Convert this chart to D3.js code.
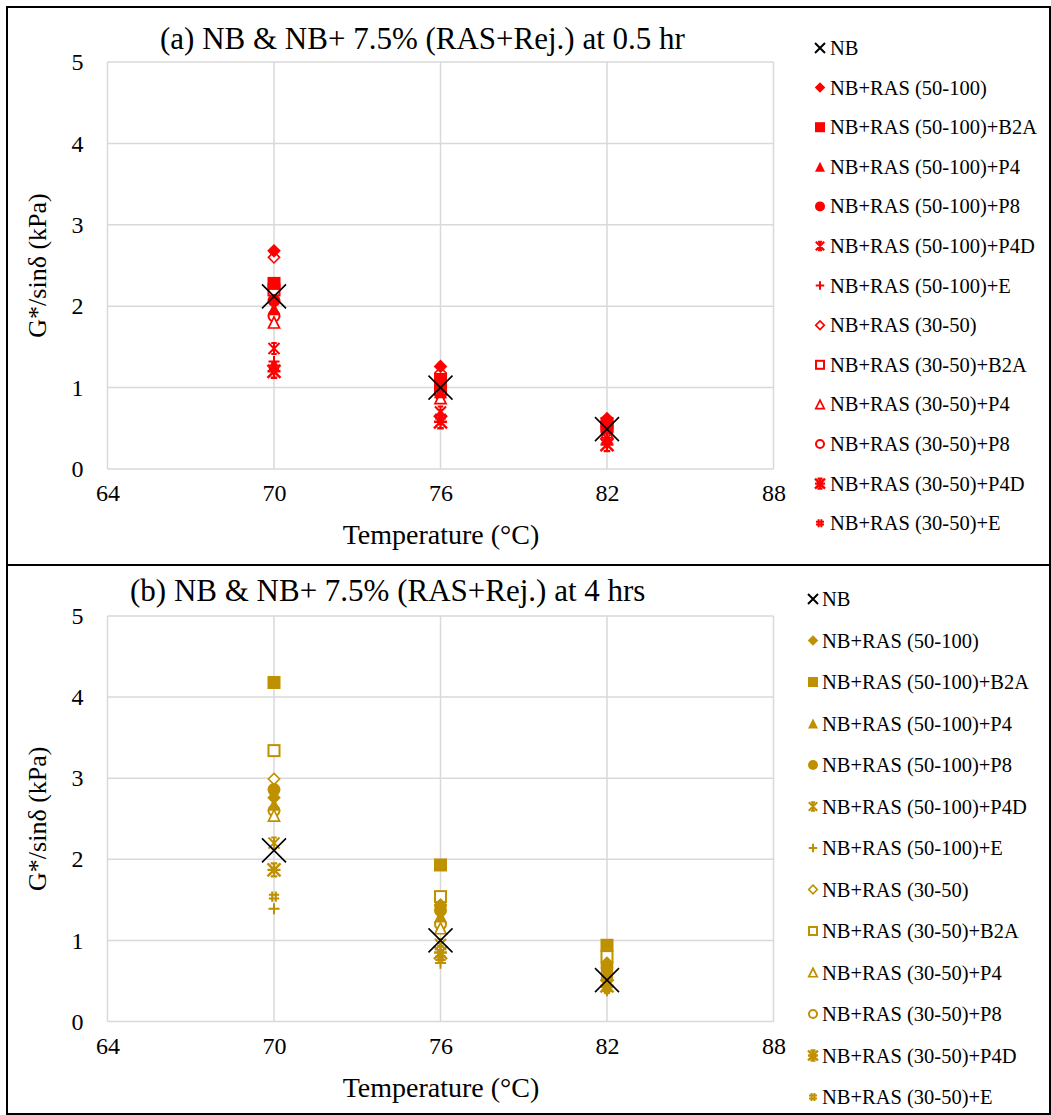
<!DOCTYPE html>
<html><head><meta charset="utf-8">
<script src="https://cdn.jsdelivr.net/npm/d3@7"></script>
<style>body{margin:0;background:#fff}svg{display:block}</style>
</head><body>
<script>
const temps = [70, 76, 82];
const xTicks = [64, 70, 76, 82, 88];
const yTicks = [0, 1, 2, 3, 4, 5];
const seriesNames = ["NB","NB+RAS (50-100)","NB+RAS (50-100)+B2A","NB+RAS (50-100)+P4","NB+RAS (50-100)+P8","NB+RAS (50-100)+P4D","NB+RAS (50-100)+E","NB+RAS (30-50)","NB+RAS (30-50)+B2A","NB+RAS (30-50)+P4","NB+RAS (30-50)+P8","NB+RAS (30-50)+P4D","NB+RAS (30-50)+E"];
const markerTypes = ["x","diamondF","squareF","triangleF","circleF","star","plus","diamondO","squareO","triangleO","circleO","burst","hash"];
// Panel (a) 0.5 hr
const a_NB = [2.12, 1.00, 0.49];
const a_R50 = [2.68, 1.26, 0.62];
const a_R50_B2A = [2.28, 1.10, 0.56];
const a_R50_P4 = [1.97, 0.95, 0.50];
const a_R50_P8 = [2.07, 1.02, 0.52];
const a_R50_P4D = [1.48, 0.70, 0.38];
const a_R50_E = [1.32, 0.67, 0.36];
const a_R30 = [2.60, 1.18, 0.58];
const a_R30_B2A = [2.20, 0.98, 0.52];
const a_R30_P4 = [1.80, 0.87, 0.45];
const a_R30_P8 = [1.88, 0.92, 0.47];
const a_R30_P4D = [1.20, 0.58, 0.30];
const a_R30_E = [1.25, 0.64, 0.33];
// Panel (b) 4 hrs
const b_NB = [2.11, 1.00, 0.51];
const b_R50 = [2.76, 1.44, 0.72];
const b_R50_B2A = [4.18, 1.93, 0.94];
const b_R50_P4 = [2.68, 1.30, 0.62];
const b_R50_P8 = [2.86, 1.37, 0.66];
const b_R50_P4D = [2.20, 0.95, 0.48];
const b_R50_E = [1.39, 0.72, 0.38];
const b_R30 = [2.99, 1.42, 0.70];
const b_R30_B2A = [3.34, 1.54, 0.80];
const b_R30_P4 = [2.54, 1.15, 0.58];
const b_R30_P8 = [2.60, 1.20, 0.60];
const b_R30_P4D = [1.87, 0.85, 0.44];
const b_R30_E = [1.54, 0.78, 0.40];

const FONT = "'Liberation Serif','Times New Roman',serif";

const panels = [
  {title:"(a) NB & NB+ 7.5% (RAS+Rej.) at 0.5 hr", color:"#FF0000",
   data:[a_NB,a_R50,a_R50_B2A,a_R50_P4,a_R50_P8,a_R50_P4D,a_R50_E,a_R30,a_R30_B2A,a_R30_P4,a_R30_P8,a_R30_P4D,a_R30_E],
   top:7, bottom:565, pTop:62, pBot:469, titleX:160, titleY:49, legX:820, legTextX:830, legY0:48, legDy:39.6},
  {title:"(b) NB & NB+ 7.5% (RAS+Rej.) at 4 hrs", color:"#BF9000",
   data:[b_NB,b_R50,b_R50_B2A,b_R50_P4,b_R50_P8,b_R50_P4D,b_R50_E,b_R30,b_R30_B2A,b_R30_P4,b_R30_P8,b_R30_P4D,b_R30_E],
   top:565, bottom:1114, pTop:616, pBot:1021.5, titleX:130, titleY:601, legX:813, legTextX:822, legY0:599, legDy:41.5}
];

const svg = d3.select("body").append("svg").attr("width",1051).attr("height",1115);

function drawMarker(g, type, cx, cy, s, color, big){
  const h = s/2;
  const m = g.append("g").attr("transform",`translate(${cx},${cy})`);
  switch(type){
    case "x": {
      const r = big ? 12 : 5;
      m.append("path").attr("d",`M${-r},${-r}L${r},${r}M${-r},${r}L${r},${-r}`).attr("stroke","#000").attr("stroke-width",big?1.6:2).attr("fill","none");
      break;}
    case "diamondF": case "diamondO": {
      const r = h*1.05;
      const p = m.append("path").attr("d",`M0,${-r}L${r},0L0,${r}L${-r},0Z`);
      if(type==="diamondF") p.attr("fill",color); else p.attr("fill","#fff").attr("stroke",color).attr("stroke-width",2).attr("transform","scale(0.82)");
      break;}
    case "squareF": case "squareO": {
      const p = m.append("rect").attr("x",-h).attr("y",-h).attr("width",s).attr("height",s);
      if(type==="squareF") p.attr("fill",color); else p.attr("fill","#fff").attr("stroke",color).attr("stroke-width",2).attr("x",-h+1).attr("y",-h+1).attr("width",s-2).attr("height",s-2);
      break;}
    case "triangleF": case "triangleO": {
      const p = m.append("path").attr("d",`M0,${-h}L${h},${h}L${-h},${h}Z`);
      if(type==="triangleF") p.attr("fill",color); else p.attr("fill","#fff").attr("stroke",color).attr("stroke-width",2).attr("transform","scale(0.85)");
      break;}
    case "circleF": case "circleO": {
      const p = m.append("circle").attr("r",h);
      if(type==="circleF") p.attr("fill",color); else p.attr("fill","#fff").attr("stroke",color).attr("stroke-width",2).attr("r",h-1);
      break;}
    case "star": {
      const r = h*0.85;
      m.append("path").attr("d",`M${-r},${-r}L${r},${r}M${-r},${r}L${r},${-r}M0,${-r}L0,${r}M${-r*0.5},${-r}L${r*0.5},${-r}M${-r*0.5},${r}L${r*0.5},${r}`).attr("stroke",color).attr("stroke-width",2).attr("fill","none");
      break;}
    case "plus": {
      const r = h*0.85;
      m.append("path").attr("d",`M${-r},0L${r},0M0,${-r}L0,${r}`).attr("stroke",color).attr("stroke-width",2).attr("fill","none");
      break;}
    case "burst": {
      const r = h;
      m.append("path").attr("d",`M${-r},${-r}L${r},${r}M${-r},${r}L${r},${-r}M0,${-r}L0,${r}M${-r},0L${r},0M${-r*0.5},${-r}L${r*0.5},${-r}M${-r*0.5},${r}L${r*0.5},${r}`).attr("stroke",color).attr("stroke-width",2.4).attr("fill","none");
      break;}
    case "hash": {
      const r = h*0.8;
      m.append("path").attr("d",`M${-r},${-r*0.35}L${r},${-r*0.35}M${-r},${r*0.35}L${r},${r*0.35}M${-r*0.35},${-r}L${-r*0.35},${r}M${r*0.35},${-r}L${r*0.35},${r}`).attr("stroke",color).attr("stroke-width",2).attr("fill","none");
      break;}
  }
}

panels.forEach(P => {
  const g = svg.append("g");
  g.append("rect").attr("x",7).attr("y",P.top).attr("width",1043).attr("height",P.bottom-P.top)
    .attr("fill","none").attr("stroke","#000").attr("stroke-width",2);
  const x = d3.scaleLinear().domain([64,88]).range([107.5,773.5]);
  const y = d3.scaleLinear().domain([0,5]).range([P.pBot,P.pTop]);
  g.append("g").selectAll("line").data(xTicks).join("line")
    .attr("x1",d=>x(d)).attr("x2",d=>x(d)).attr("y1",P.pTop).attr("y2",P.pBot)
    .attr("stroke","#d9d9d9").attr("stroke-width",1.5);
  g.append("g").selectAll("line").data(yTicks).join("line")
    .attr("x1",x(64)).attr("x2",x(88)).attr("y1",d=>y(d)).attr("y2",d=>y(d))
    .attr("stroke","#d9d9d9").attr("stroke-width",1.5);
  const xa = g.append("g").attr("transform",`translate(0,${P.pBot})`)
    .call(d3.axisBottom(x).tickValues(xTicks).tickFormat(d3.format("d")).tickSize(0).tickPadding(15));
  xa.select(".domain").remove();
  xa.attr("font-family",null).attr("font-size",null);
  xa.selectAll("text").style("font-size","24px").style("font-family",FONT).attr("fill","#000");
  const ya = g.append("g").attr("transform",`translate(${x(64)},0)`)
    .call(d3.axisLeft(y).tickValues(yTicks).tickFormat(d3.format("d")).tickSize(0).tickPadding(24));
  ya.select(".domain").remove();
  ya.attr("font-family",null).attr("font-size",null);
  ya.selectAll("text").style("font-size","24px").style("font-family",FONT).attr("fill","#000");
  g.append("text").attr("x",P.titleX).attr("y",P.titleY).attr("text-anchor","start")
    .style("font-size","31px").style("font-family",FONT).text(P.title);
  g.append("text").attr("x",441).attr("y",P.pBot+75).attr("text-anchor","middle")
    .style("font-size","28px").style("font-family",FONT).text("Temperature (°C)");
  g.append("text").attr("transform",`translate(46,${(P.pTop+P.pBot)/2}) rotate(-90)`).attr("text-anchor","middle")
    .style("font-size","26px").style("font-family",FONT).text("G*/sinδ (kPa)");
  const order = d3.range(P.data.length).slice(1).reverse().concat([0]);
  const pts = g.append("g");
  order.forEach(i => {
    P.data[i].forEach((v,j) => {
      drawMarker(pts, markerTypes[i], x(temps[j]), y(v), 13, P.color, true);
    });
  });
  const lg = g.append("g");
  seriesNames.forEach((name,i) => {
    const cy = P.legY0 + i*P.legDy;
    drawMarker(lg, markerTypes[i], P.legX, cy, 10, P.color, false);
    lg.append("text").attr("x",P.legTextX).attr("y",cy+7)
      .style("font-size","20.5px").style("font-family",FONT).text(name);
  });
});
</script>
</body></html>
